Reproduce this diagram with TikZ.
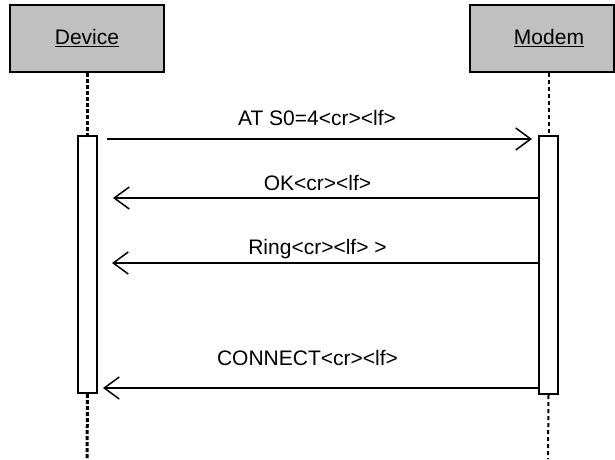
\documentclass[tikz,border=0pt]{standalone}
\usepackage{fontspec}
\setmainfont{Liberation Sans}
\usetikzlibrary{arrows.meta}
\begin{document}
\begin{tikzpicture}[x=1pt,y=-1pt,
  font=\fontsize{21}{25}\selectfont,
  objbox/.style={draw=black, line width=2pt, fill=boxgray, minimum height=67pt, inner sep=0pt},
  actbox/.style={draw=black, line width=2pt, fill=white, minimum width=19pt, inner sep=0pt},
  msg/.style={line width=1.5pt, -{Straight Barb[length=15pt,width=22pt,line width=1.5pt]}},
  lifethick/.style={line width=3pt, dash pattern=on 4pt off 2pt},
  lifethin/.style={line width=2pt, dash pattern=on 4pt off 3pt},
  lbl/.style={anchor=base, inner sep=0pt}]
\definecolor{boxgray}{RGB}{192,192,192}
\useasboundingbox (0,0) rectangle (615,459);
% objects
\node[objbox, minimum width=154pt] (device) at (87,38.5) {\raisebox{3pt}{\underline{Device}}};
\node[objbox, minimum width=144pt] (modem) at (542,38.5) {\hspace*{14pt}\raisebox{3pt}{\underline{Modem}}};
% activation boxes
\node[actbox, minimum height=257pt] (act1) at (87.5,264.5) {};
\node[actbox, minimum height=258pt] (act2) at (548.5,265) {};
% lifelines
\coordinate (dend) at (87,459);
\coordinate (mend) at (548,459);
\draw[lifethick] (device.south -| act1.north) -- (act1.north);
\draw[lifethick] (act1.south) -- (dend);
\draw[lifethin] (act2.north |- modem.south) -- (act2.north);
\draw[lifethin] (act2.south) -- (mend);
% messages
\coordinate (m1s) at (107,139); \coordinate (m1e) at (532,139);
\coordinate (m2s) at (539,198); \coordinate (m2e) at (113,198);
\coordinate (m3s) at (539,263); \coordinate (m3e) at (112,263);
\coordinate (m4s) at (539,388); \coordinate (m4e) at (103,388);
\draw[msg] (m1s) -- (m1e);
\draw[msg] (m2s) -- (m2e);
\draw[msg] (m3s) -- (m3e);
\draw[msg] (m4s) -- (m4e);
\node[lbl] (l1) at (317,125) {AT S0=4<cr><lf>};
\node[lbl] (l2) at (317.5,190) {OK<cr><lf>};
\node[lbl] (l3) at (317.5,254) {Ring<cr><lf> >};
\node[lbl] (l4) at (307.5,365) {CONNECT<cr><lf>};
\end{tikzpicture}
\end{document}
